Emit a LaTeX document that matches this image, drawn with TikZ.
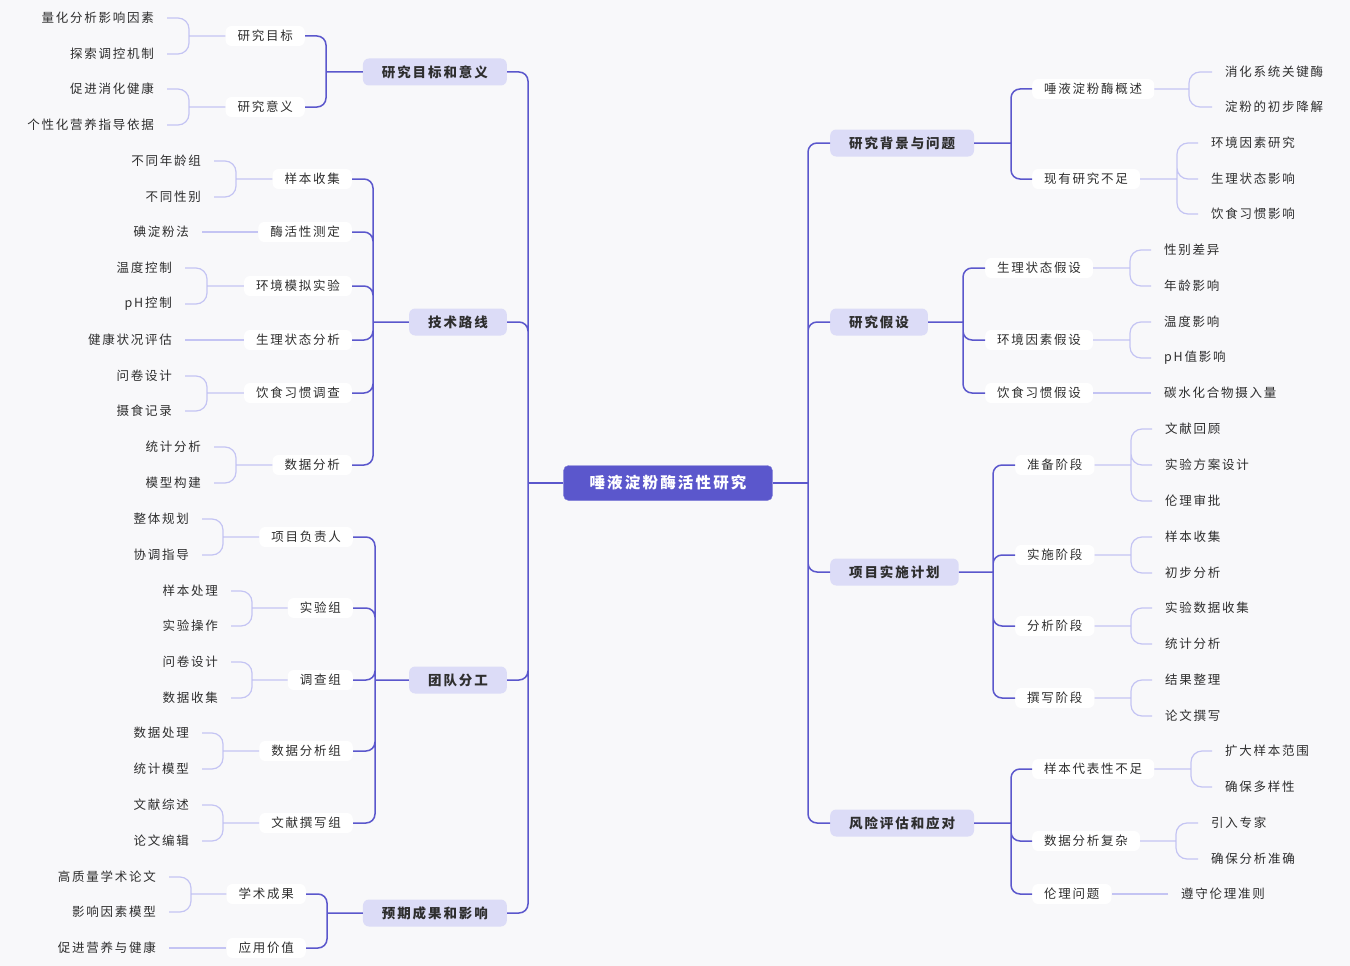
\documentclass[tikz,border=0pt]{standalone}
\usepackage{fontspec}
\setmainfont[LetterSpace=14]{Noto Sans CJK SC}
\usepackage{tikz}

\definecolor{mainblue}{HTML}{5B57CC}
\definecolor{topicfill}{HTML}{DCDCF7}
\definecolor{twigline}{HTML}{C4C4F3}
\definecolor{paper}{HTML}{F8F8FA}
\definecolor{ink}{HTML}{2E2E2E}

\begin{document}
\begin{tikzpicture}[x=1pt,y=-1pt,
    root/.style={fill=mainblue,draw=mainblue!80!white,text=white,font=\fontsize{15.5}{18}\selectfont\bfseries,rounded corners=5pt,minimum height=35pt,inner xsep=26pt,inner ysep=2pt},
    topic/.style={fill=topicfill,text=ink,font=\fontsize{13.5}{16}\selectfont\bfseries,rounded corners=6pt,minimum height=27pt,inner xsep=19pt,inner ysep=2pt},
    sub/.style={fill=white,text=ink,font=\fontsize{12.5}{14}\selectfont,rounded corners=6pt,minimum height=20pt,inner xsep=12pt,inner ysep=1pt},
    leaf/.style={text=ink,font=\fontsize{12.5}{14}\selectfont,inner xsep=13pt,inner ysep=1pt},
    trunk/.style={draw=mainblue,line width=1.5pt,rounded corners=9pt},
    twig/.style={draw=twigline,line width=1.2pt,rounded corners=11pt}]
    \useasboundingbox (0,0) rectangle (1350,966);
    \fill[paper] (0,0) rectangle (1350,966);

    \node[root] (rt) at (668,483) {唾液淀粉酶活性研究};
    \coordinate (lb) at (528,483);
    \coordinate (rb) at (808,483);

    % left side
    \node[topic,anchor=east] (goal) at (507,72) {研究目标和意义};
    \node[topic,anchor=east] (tech) at (507,322) {技术路线};
    \node[topic,anchor=east] (team) at (507,680) {团队分工};
    \node[topic,anchor=east] (outc) at (507,913) {预期成果和影响};

    \node[sub,anchor=east] (goal1) at (305,36) {研究目标};
    \node[sub,anchor=east] (goal2) at (305,107) {研究意义};
    \coordinate (goalb) at (326,72);
    \node[leaf,anchor=east] (goal1a) at (167,18) {量化分析影响因素};
    \node[leaf,anchor=east] (goal1b) at (167,54) {探索调控机制};
    \coordinate (goal1x) at (189,36);
    \node[leaf,anchor=east] (goal2a) at (167,89) {促进消化健康};
    \node[leaf,anchor=east] (goal2b) at (167,125) {个性化营养指导依据};
    \coordinate (goal2x) at (189,107);

    \node[sub,anchor=east] (tech1) at (352,179) {样本收集};
    \node[sub,anchor=east] (tech2) at (352,232) {酶活性测定};
    \node[sub,anchor=east] (tech3) at (352,286) {环境模拟实验};
    \node[sub,anchor=east] (tech4) at (352,340) {生理状态分析};
    \node[sub,anchor=east] (tech5) at (352,393) {饮食习惯调查};
    \node[sub,anchor=east] (tech6) at (352,465) {数据分析};
    \coordinate (techb) at (373,322);
    \node[leaf,anchor=east] (tech1a) at (214,161) {不同年龄组};
    \node[leaf,anchor=east] (tech1b) at (214,197) {不同性别};
    \coordinate (tech1x) at (236,179);
    \node[leaf,anchor=east] (tech2a) at (202,232) {碘淀粉法};
    \node[leaf,anchor=east] (tech3a) at (185,268) {温度控制};
    \node[leaf,anchor=east] (tech3b) at (185,304) {pH控制};
    \coordinate (tech3x) at (207,286);
    \node[leaf,anchor=east] (tech4a) at (185,340) {健康状况评估};
    \node[leaf,anchor=east] (tech5a) at (185,376) {问卷设计};
    \node[leaf,anchor=east] (tech5b) at (185,411) {摄食记录};
    \coordinate (tech5x) at (207,393);
    \node[leaf,anchor=east] (tech6a) at (214,447) {统计分析};
    \node[leaf,anchor=east] (tech6b) at (214,483) {模型构建};
    \coordinate (tech6x) at (236,465);

    \node[sub,anchor=east] (team1) at (353,537) {项目负责人};
    \node[sub,anchor=east] (team2) at (353,608) {实验组};
    \node[sub,anchor=east] (team3) at (353,680) {调查组};
    \node[sub,anchor=east] (team4) at (353,751) {数据分析组};
    \node[sub,anchor=east] (team5) at (353,823) {文献撰写组};
    \coordinate (teamb) at (375,680);
    \node[leaf,anchor=east] (team1a) at (202,519) {整体规划};
    \node[leaf,anchor=east] (team1b) at (202,555) {协调指导};
    \coordinate (team1x) at (223,537);
    \node[leaf,anchor=east] (team2a) at (231,591) {样本处理};
    \node[leaf,anchor=east] (team2b) at (231,626) {实验操作};
    \coordinate (team2x) at (252,608);
    \node[leaf,anchor=east] (team3a) at (231,662) {问卷设计};
    \node[leaf,anchor=east] (team3b) at (231,698) {数据收集};
    \coordinate (team3x) at (252,680);
    \node[leaf,anchor=east] (team4a) at (202,733) {数据处理};
    \node[leaf,anchor=east] (team4b) at (202,769) {统计模型};
    \coordinate (team4x) at (223,751);
    \node[leaf,anchor=east] (team5a) at (202,805) {文献综述};
    \node[leaf,anchor=east] (team5b) at (202,841) {论文编辑};
    \coordinate (team5x) at (223,823);

    \node[sub,anchor=east] (outc1) at (306,894) {学术成果};
    \node[sub,anchor=east] (outc2) at (306,948) {应用价值};
    \coordinate (outcb) at (327,913);
    \node[leaf,anchor=east] (outc1a) at (169,877) {高质量学术论文};
    \node[leaf,anchor=east] (outc1b) at (169,912) {影响因素模型};
    \coordinate (outc1x) at (191,894);
    \node[leaf,anchor=east] (outc2a) at (169,948) {促进营养与健康};

    % right side
    \node[topic,anchor=west] (back) at (830,143) {研究背景与问题};
    \node[topic,anchor=west] (hypo) at (830,322) {研究假设};
    \node[topic,anchor=west] (plan) at (830,572) {项目实施计划};
    \node[topic,anchor=west] (risk) at (830,823) {风险评估和应对};

    \node[sub,anchor=west] (back1) at (1032,89) {唾液淀粉酶概述};
    \node[sub,anchor=west] (back2) at (1032,179) {现有研究不足};
    \coordinate (backb) at (1011,143);
    \node[leaf,anchor=west] (back1a) at (1212,72) {消化系统关键酶};
    \node[leaf,anchor=west] (back1b) at (1212,107) {淀粉的初步降解};
    \coordinate (back1x) at (1189,89);
    \node[leaf,anchor=west] (back2a) at (1198,143) {环境因素研究};
    \node[leaf,anchor=west] (back2b) at (1198,179) {生理状态影响};
    \node[leaf,anchor=west] (back2c) at (1198,214) {饮食习惯影响};
    \coordinate (back2x) at (1177,179);

    \node[sub,anchor=west] (hypo1) at (985,268) {生理状态假设};
    \node[sub,anchor=west] (hypo2) at (985,340) {环境因素假设};
    \node[sub,anchor=west] (hypo3) at (985,393) {饮食习惯假设};
    \coordinate (hypob) at (963,322);
    \node[leaf,anchor=west] (hypo1a) at (1151,250) {性别差异};
    \node[leaf,anchor=west] (hypo1b) at (1151,286) {年龄影响};
    \coordinate (hypo1x) at (1130,268);
    \node[leaf,anchor=west] (hypo2a) at (1151,322) {温度影响};
    \node[leaf,anchor=west] (hypo2b) at (1151,358) {pH值影响};
    \coordinate (hypo2x) at (1130,340);
    \node[leaf,anchor=west] (hypo3a) at (1151,393) {碳水化合物摄入量};

    \node[sub,anchor=west] (plan1) at (1015,465) {准备阶段};
    \node[sub,anchor=west] (plan2) at (1015,555) {实施阶段};
    \node[sub,anchor=west] (plan3) at (1015,626) {分析阶段};
    \node[sub,anchor=west] (plan4) at (1015,698) {撰写阶段};
    \coordinate (planb) at (993,572);
    \node[leaf,anchor=west] (plan1a) at (1152,429) {文献回顾};
    \node[leaf,anchor=west] (plan1b) at (1152,465) {实验方案设计};
    \node[leaf,anchor=west] (plan1c) at (1152,501) {伦理审批};
    \coordinate (plan1x) at (1131,465);
    \node[leaf,anchor=west] (plan2a) at (1152,537) {样本收集};
    \node[leaf,anchor=west] (plan2b) at (1152,573) {初步分析};
    \coordinate (plan2x) at (1131,555);
    \node[leaf,anchor=west] (plan3a) at (1152,608) {实验数据收集};
    \node[leaf,anchor=west] (plan3b) at (1152,644) {统计分析};
    \coordinate (plan3x) at (1131,626);
    \node[leaf,anchor=west] (plan4a) at (1152,680) {结果整理};
    \node[leaf,anchor=west] (plan4b) at (1152,716) {论文撰写};
    \coordinate (plan4x) at (1131,698);

    \node[sub,anchor=west] (risk1) at (1032,769) {样本代表性不足};
    \node[sub,anchor=west] (risk2) at (1032,841) {数据分析复杂};
    \node[sub,anchor=west] (risk3) at (1032,894) {伦理问题};
    \coordinate (riskb) at (1011,823);
    \node[leaf,anchor=west] (risk1a) at (1212,751) {扩大样本范围};
    \node[leaf,anchor=west] (risk1b) at (1212,787) {确保多样性};
    \coordinate (risk1x) at (1191,769);
    \node[leaf,anchor=west] (risk2a) at (1198,823) {引入专家};
    \node[leaf,anchor=west] (risk2b) at (1198,859) {确保分析准确};
    \coordinate (risk2x) at (1176,841);
    \node[leaf,anchor=west] (risk3a) at (1168,894) {遵守伦理准则};

    % connectors
    \draw[trunk] (rt.west) -- (lb) (rt.east) -- (rb);
    \draw[trunk] (goal.east) -| (lb) (tech.east) -| (lb) (team.east) -| (lb) (outc.east) -| (lb);
    \draw[trunk] (back.west) -| (rb) (hypo.west) -| (rb) (plan.west) -| (rb) (risk.west) -| (rb);

    \draw[trunk] (goalb) -- (goal.west) (goal1.east) -| (goalb) (goal2.east) -| (goalb);
    \draw[trunk] (techb) -- (tech.west) (tech1.east) -| (techb) (tech2.east) -| (techb) (tech3.east) -| (techb)
        (tech4.east) -| (techb) (tech5.east) -| (techb) (tech6.east) -| (techb);
    \draw[trunk] (teamb) -- (team.west) (team1.east) -| (teamb) (team2.east) -| (teamb) (team3.east) -| (teamb)
        (team4.east) -| (teamb) (team5.east) -| (teamb);
    \draw[trunk] (outcb) -- (outc.west) (outc1.east) -| (outcb) (outc2.east) -| (outcb);

    \draw[trunk] (backb) -- (back.east) (back1.west) -| (backb) (back2.west) -| (backb);
    \draw[trunk] (hypob) -- (hypo.east) (hypo1.west) -| (hypob) (hypo2.west) -| (hypob) (hypo3.west) -| (hypob);
    \draw[trunk] (planb) -- (plan.east) (plan1.west) -| (planb) (plan2.west) -| (planb) (plan3.west) -| (planb)
        (plan4.west) -| (planb);
    \draw[trunk] (riskb) -- (risk.east) (risk1.west) -| (riskb) (risk2.west) -| (riskb) (risk3.west) -| (riskb);

    \draw[twig] (goal1x) -- (goal1.west) (goal1a.east) -| (goal1x) (goal1b.east) -| (goal1x);
    \draw[twig] (goal2x) -- (goal2.west) (goal2a.east) -| (goal2x) (goal2b.east) -| (goal2x);
    \draw[twig] (tech1x) -- (tech1.west) (tech1a.east) -| (tech1x) (tech1b.east) -| (tech1x);
    \draw[twig] (tech2a.east) -- (tech2.west);
    \draw[twig] (tech3x) -- (tech3.west) (tech3a.east) -| (tech3x) (tech3b.east) -| (tech3x);
    \draw[twig] (tech4a.east) -- (tech4.west);
    \draw[twig] (tech5x) -- (tech5.west) (tech5a.east) -| (tech5x) (tech5b.east) -| (tech5x);
    \draw[twig] (tech6x) -- (tech6.west) (tech6a.east) -| (tech6x) (tech6b.east) -| (tech6x);
    \draw[twig] (team1x) -- (team1.west) (team1a.east) -| (team1x) (team1b.east) -| (team1x);
    \draw[twig] (team2x) -- (team2.west) (team2a.east) -| (team2x) (team2b.east) -| (team2x);
    \draw[twig] (team3x) -- (team3.west) (team3a.east) -| (team3x) (team3b.east) -| (team3x);
    \draw[twig] (team4x) -- (team4.west) (team4a.east) -| (team4x) (team4b.east) -| (team4x);
    \draw[twig] (team5x) -- (team5.west) (team5a.east) -| (team5x) (team5b.east) -| (team5x);
    \draw[twig] (outc1x) -- (outc1.west) (outc1a.east) -| (outc1x) (outc1b.east) -| (outc1x);
    \draw[twig] (outc2a.east) -- (outc2.west);

    \draw[twig] (back1x) -- (back1.east) (back1a.west) -| (back1x) (back1b.west) -| (back1x);
    \draw[twig] (back2x) -- (back2.east) (back2a.west) -| (back2x) (back2b.west) -| (back2x) (back2c.west) -| (back2x);
    \draw[twig] (hypo1x) -- (hypo1.east) (hypo1a.west) -| (hypo1x) (hypo1b.west) -| (hypo1x);
    \draw[twig] (hypo2x) -- (hypo2.east) (hypo2a.west) -| (hypo2x) (hypo2b.west) -| (hypo2x);
    \draw[twig] (hypo3a.west) -- (hypo3.east);
    \draw[twig] (plan1x) -- (plan1.east) (plan1a.west) -| (plan1x) (plan1b.west) -| (plan1x) (plan1c.west) -| (plan1x);
    \draw[twig] (plan2x) -- (plan2.east) (plan2a.west) -| (plan2x) (plan2b.west) -| (plan2x);
    \draw[twig] (plan3x) -- (plan3.east) (plan3a.west) -| (plan3x) (plan3b.west) -| (plan3x);
    \draw[twig] (plan4x) -- (plan4.east) (plan4a.west) -| (plan4x) (plan4b.west) -| (plan4x);
    \draw[twig] (risk1x) -- (risk1.east) (risk1a.west) -| (risk1x) (risk1b.west) -| (risk1x);
    \draw[twig] (risk2x) -- (risk2.east) (risk2a.west) -| (risk2x) (risk2b.west) -| (risk2x);
    \draw[twig] (risk3a.west) -- (risk3.east);
\end{tikzpicture}
\end{document}
